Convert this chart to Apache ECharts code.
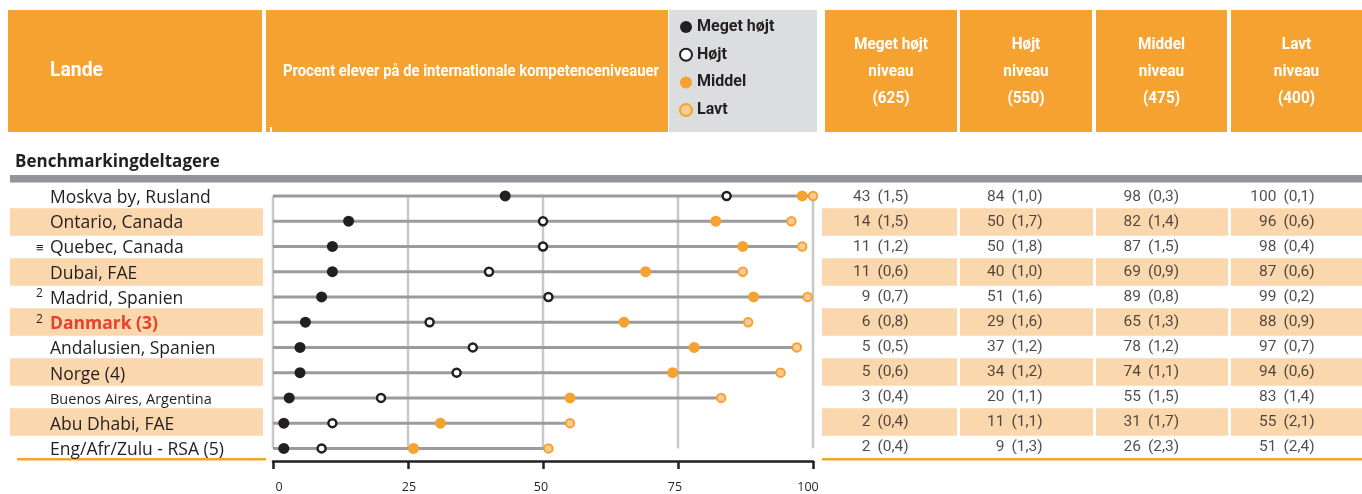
<!DOCTYPE html>
<html><head><meta charset="utf-8">
<script src="https://cdn.jsdelivr.net/npm/echarts@6/dist/echarts.min.js"></script>
<style>html,body{margin:0;padding:0;background:#fff}#c{width:1362px;height:494px}</style>
</head><body><div id="c"></div>
<script>
// ---------- data ----------
const countries = ['Moskva by, Rusland','Ontario, Canada','Quebec, Canada','Dubai, FAE','Madrid, Spanien','Danmark (3)','Andalusien, Spanien','Norge (4)','Buenos Aires, Argentina','Abu Dhabi, FAE','Eng/Afr/Zulu - RSA (5)'];
const notes = ['','','≡','','2','2','','','','',''];
const megetHojt   = [43,14,11,11,9,6,5,5,3,2,2];
const megetHojtSE = ['1,5','1,5','1,2','0,6','0,7','0,8','0,5','0,6','0,4','0,4','0,4'];
const hojt        = [84,50,50,40,51,29,37,34,20,11,9];
const hojtSE      = ['1,0','1,7','1,8','1,0','1,6','1,6','1,2','1,2','1,1','1,1','1,3'];
const middel      = [98,82,87,69,89,65,78,74,55,31,26];
const middelSE    = ['0,3','1,4','1,5','0,9','0,8','1,3','1,2','1,1','1,5','1,7','2,3'];
const lavt        = [100,96,98,87,99,88,97,94,83,55,51];
const lavtSE      = ['0,1','0,6','0,4','0,6','0,2','0,9','0,7','0,6','1,4','2,1','2,4'];
const xTicks      = [0,25,50,75,100];
const levelNames  = ['Meget højt','Højt','Middel','Lavt'];
const levelScores = [625,550,475,400];

// ---------- styles / layout ----------
const FONT = "'Open Sans', sans-serif";
const NARROW = "Roboto, 'Liberation Sans', sans-serif";
const ORANGE = '#F6A230', SHADE = '#FAD7AD', DARK = '#231F20', GRIDC = '#C8C8C8', LINEC = '#9B9B9B', RED = '#E8412B';
const n = countries.length;
const ROW_TOP = 184.5, ROW_H = 25;
const tableCols = [
  {vals: megetHojt, se: megetHojtSE, L: 822,  R: 957,  a: 874},
  {vals: hojt,      se: hojtSE,      L: 960,  R: 1093, a: 1008},
  {vals: middel,    se: middelSE,    L: 1096, R: 1228, a: 1144.5},
  {vals: lavt,      se: lavtSE,      L: 1231, R: 1362, a: 1280}
];
const headCols = [[825,132],[960,132],[1096,131],[1231,131]];
// small horizontal nudges of the x tick labels (as typeset in the original)
const tickPad = {0: [0,0,0,12], 25: [0,0,0,2], 50: [0,4,0,0], 75: [0,6,0,0], 100: [0,10,0,0]};

const mctx = document.createElement('canvas').getContext('2d');
function fitScale(text, font, w) { mctx.font = font; return w / mctx.measureText(text).width; }

const grid = [
  {left: 10, width: 253, top: ROW_TOP, height: ROW_H * n},
  {left: 273, width: 540, top: 183.33, height: 278.67}
].concat(tableCols.map(c => ({left: c.L, width: c.R - c.L, top: ROW_TOP, height: ROW_H * n})));

const catAxis = (gi, extra) => Object.assign({gridIndex: gi, type: 'category', inverse: true, data: countries, show: false}, extra || {});

const tickRich = {};
xTicks.forEach(v => { tickRich['t' + v] = {fontFamily: FONT, fontSize: 12.5, color: DARK, padding: tickPad[v] || 0}; });

const xAxis = [
  {gridIndex: 0, type: 'value', min: 0, max: 1, show: false},
  {gridIndex: 1, type: 'value', min: 0, max: 100, interval: 25,
   axisLine: {show: true, lineStyle: {color: DARK, width: 2.5}},
   axisTick: {show: true, length: 8, lineStyle: {color: DARK, width: 2.5}},
   axisLabel: {fontFamily: FONT, fontSize: 12.5, color: DARK, margin: 20, rich: tickRich,
     formatter: v => '{t' + v + '|' + v + '}'},
   splitLine: {show: false}}
].concat(tableCols.map((c, k) => ({gridIndex: k + 2, type: 'value', min: 0, max: c.R - c.L, show: false})));

const richStyles = {
  p: {width: 14, fontFamily: FONT, fontSize: 12, color: DARK, verticalAlign: 'top', lineHeight: 22},
  q: {width: 14, fontFamily: FONT, fontSize: 13, color: DARK, lineHeight: 22},
  n: {fontFamily: FONT, fontSize: 17.5, color: DARK, lineHeight: 22},
  s: {fontFamily: FONT, fontSize: 14.5, color: DARK, lineHeight: 22},
  d: {fontFamily: FONT, fontSize: 17.5, fontWeight: 'bold', color: RED, lineHeight: 22}
};

const yAxis = [
  catAxis(0),
  catAxis(1, {show: true, z: 5,
    axisLine: {show: false}, axisTick: {show: false}, splitLine: {show: false},
    axisLabel: {align: 'left', margin: 237, padding: [4, 0, 0, 0], rich: richStyles,
      formatter: (val, i) => {
        const note = notes[i];
        const pre = note === '≡' ? '{q|≡}' : (note ? '{p|' + note + '}' : '{q| }');
        let style = 'n';
        if (val.indexOf('Danmark') === 0) style = 'd';
        else if (val.length > 22) style = 's';
        return pre + '{' + style + '|' + val + '}';
      }}})
].concat(tableCols.map((c, k) => catAxis(k + 2)));

const series = [];
series.push({type: 'bar', xAxisIndex: 0, yAxisIndex: 0, silent: true, z: 1, barWidth: 27.4,
  itemStyle: {color: SHADE}, data: countries.map((_, i) => i % 2 === 1 ? 1 : '-')});
series.push({type: 'custom', xAxisIndex: 1, yAxisIndex: 1, silent: true, z: 1,
  data: xTicks.map(v => [v, 0]), encode: {x: 0, y: 1},
  renderItem: (params, api) => {
    const a = api.coord([api.value(0), 0]);
    const b = api.coord([api.value(0), n - 1]);
    return {type: 'line', shape: {x1: a[0], y1: a[1], x2: b[0], y2: b[1]},
      style: {stroke: GRIDC, lineWidth: 2.5}};
  }});
series.push({type: 'bar', xAxisIndex: 1, yAxisIndex: 1, silent: true, z: 2, barWidth: 3,
  itemStyle: {color: LINEC}, data: lavt});
const pts = arr => arr.map((v, i) => [v, i]);
series.push({name: levelNames[0], type: 'scatter', xAxisIndex: 1, yAxisIndex: 1, z: 4, symbolSize: 11,
  itemStyle: {color: DARK, opacity: 1}, data: pts(megetHojt)});
series.push({name: levelNames[1], type: 'scatter', xAxisIndex: 1, yAxisIndex: 1, z: 4, symbolSize: 8,
  itemStyle: {color: '#fff', borderColor: DARK, borderWidth: 2.5, opacity: 1}, data: pts(hojt)});
series.push({name: levelNames[2], type: 'scatter', xAxisIndex: 1, yAxisIndex: 1, z: 4, symbolSize: 11,
  itemStyle: {color: ORANGE, opacity: 1}, data: pts(middel)});
series.push({name: levelNames[3], type: 'scatter', xAxisIndex: 1, yAxisIndex: 1, z: 4, symbolSize: 8.5,
  itemStyle: {color: '#FACB95', borderColor: ORANGE, borderWidth: 2, opacity: 1}, data: pts(lavt)});
const tblText = {fontFamily: NARROW, fontSize: 15.5, color: DARK};
tableCols.forEach((c, k) => {
  const gi = k + 2;
  series.push({type: 'bar', xAxisIndex: gi, yAxisIndex: gi, silent: true, z: 1, barWidth: 27.4,
    itemStyle: {color: SHADE}, data: countries.map((_, i) => i % 2 === 1 ? c.R - c.L : '-')});
  series.push({type: 'scatter', xAxisIndex: gi, yAxisIndex: gi, silent: true, z: 3, symbolSize: 0,
    data: c.vals.map((v, i) => [c.a - c.L, i]),
    label: Object.assign({show: true, position: 'left', distance: 3.5,
      formatter: p => String(c.vals[p.dataIndex])}, tblText)});
  series.push({type: 'scatter', xAxisIndex: gi, yAxisIndex: gi, silent: true, z: 3, symbolSize: 0,
    data: c.se.map((v, i) => [c.a - c.L, i]),
    label: Object.assign({show: true, position: 'right', distance: 3.5,
      formatter: p => '(' + c.se[p.dataIndex] + ')'}, tblText)});
});

// ---------- decorations ----------
const landeFont = 'bold 20px ' + NARROW;
const procText = 'Procent elever på de internationale kompetenceniveauer';
const procFont = 'bold 17px ' + NARROW;
const headFont = 'bold 17px ' + NARROW;
const headScale = fitScale('Meget højt', headFont, 74);
const graphic = [
  {type: 'rect', shape: {x: 8, y: 10, width: 254, height: 122}, style: {fill: ORANGE}, silent: true},
  {type: 'rect', shape: {x: 266, y: 10, width: 402, height: 122}, style: {fill: ORANGE}, silent: true},
  {type: 'rect', shape: {x: 669, y: 10, width: 148, height: 122}, style: {fill: '#DCDDDF'}, silent: true},
  {type: 'text', x: 50, y: 71, scaleX: fitScale('Lande', landeFont, 53), silent: true,
    style: {text: 'Lande', fill: '#fff', font: landeFont, textVerticalAlign: 'middle'}},
  {type: 'text', x: 471, y: 72, scaleX: fitScale(procText, procFont, 376), silent: true,
    style: {text: procText, fill: '#fff', font: procFont, textAlign: 'center', textVerticalAlign: 'middle'}},
  {type: 'rect', shape: {x: 270, y: 127, width: 2, height: 5}, style: {fill: '#fff'}, silent: true},
  {type: 'text', x: 15, y: 162.5, style: {text: 'Benchmarkingdeltagere', fill: DARK, font: 'bold 17px ' + FONT, textVerticalAlign: 'middle'}, silent: true},
  {type: 'rect', shape: {x: 10, y: 175, width: 1352, height: 7.5}, style: {fill: '#939598'}, silent: true},
  {type: 'rect', shape: {x: 17, y: 458, width: 249, height: 2.6}, style: {fill: ORANGE}, silent: true},
  {type: 'rect', shape: {x: 822, y: 458, width: 540, height: 2.6}, style: {fill: ORANGE}, silent: true}
];
headCols.forEach((h, k) => {
  graphic.push({type: 'rect', shape: {x: h[0], y: 10, width: h[1], height: 122}, style: {fill: ORANGE}, silent: true});
  graphic.push({type: 'text', x: h[0] + h[1] / 2, y: 72, scaleX: headScale, silent: true,
    style: {text: levelNames[k] + '\nniveau\n(' + levelScores[k] + ')', fill: '#fff', font: headFont,
      textAlign: 'center', textVerticalAlign: 'middle', lineHeight: 27}});
});

const chart = echarts.init(document.getElementById('c'), null, {renderer: 'canvas'});
chart.setOption({
  animation: false,
  backgroundColor: '#fff',
  grid: grid, xAxis: xAxis, yAxis: yAxis, series: series, graphic: graphic,
  legend: {data: levelNames, orient: 'vertical', left: 679, top: 18, padding: 0, itemWidth: 12, itemHeight: 12, itemGap: 9.7,
    selectedMode: false, icon: 'circle',
    textStyle: {fontFamily: NARROW, fontWeight: 'bold', fontSize: 16, color: DARK, lineHeight: 18}},
  tooltip: {show: false}
});
</script></body></html>
